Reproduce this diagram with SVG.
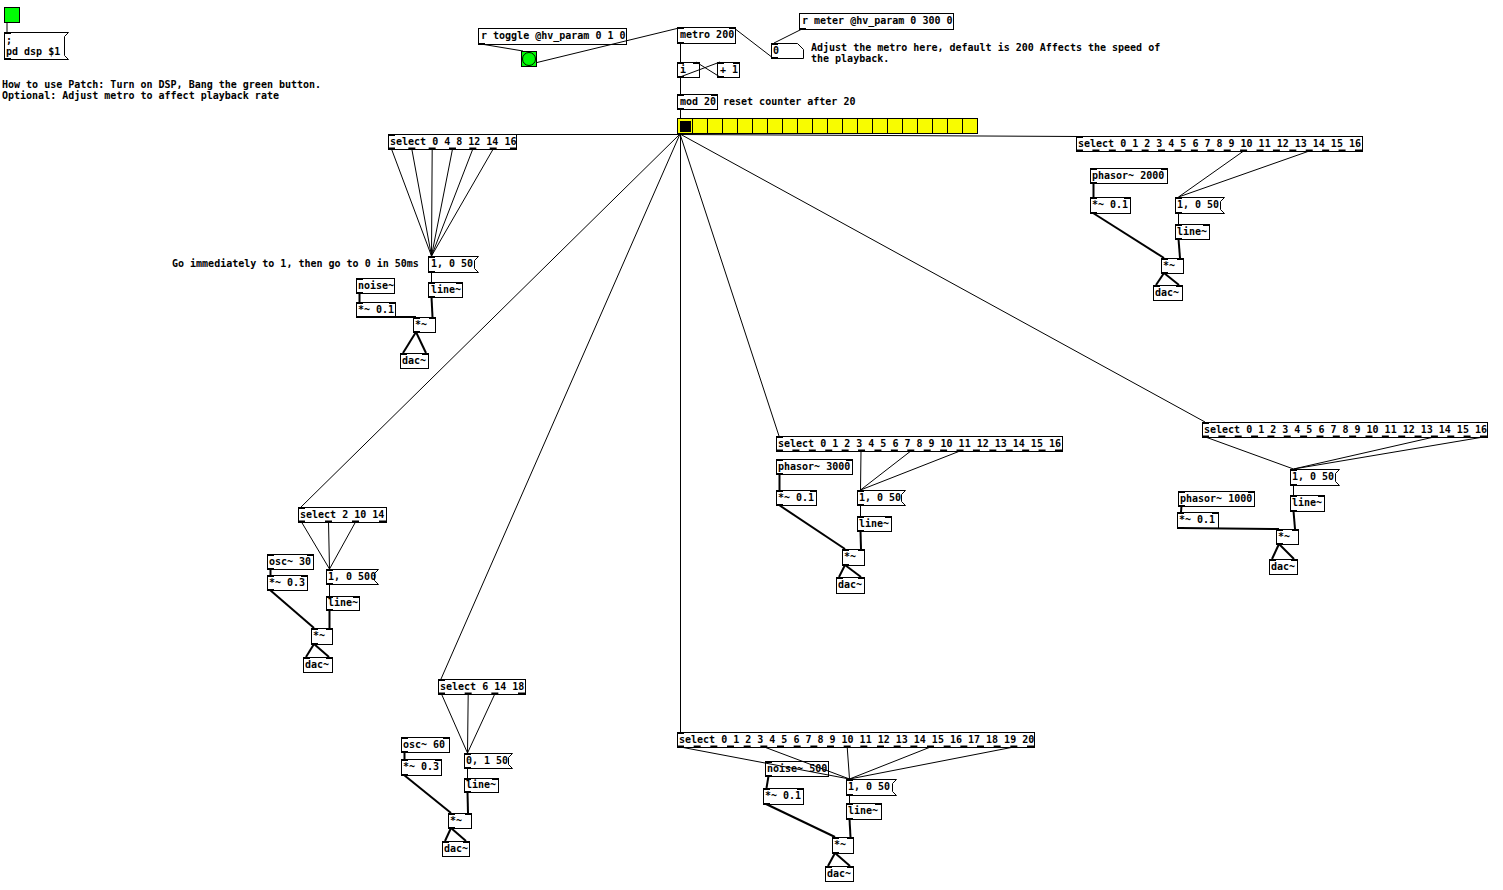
<svg xmlns="http://www.w3.org/2000/svg" width="1503" height="890" viewBox="0 0 1503 890">
<style>
.b{fill:#fff;stroke:#000;stroke-width:1}
.t{font-family:"DejaVu Sans Mono","Liberation Mono",monospace;font-size:10px;font-weight:bold;fill:#000}
rect.b ~ text.t, polygon.b ~ text.t{transform:translateY(-1px)}
.io{fill:#000}
.c{stroke:#000;stroke-width:1;fill:none}
.s{stroke:#000;stroke-width:2;fill:none}
.g{fill:#00fc04;stroke:#000;stroke-width:1}
.y{fill:#f8fc00;stroke:#000;stroke-width:1}
</style>
<rect width="1503" height="890" fill="#fff"/>
<g id="nodes">
<g id="tgl"><rect class="g" x="4.5" y="7.5" width="15" height="15"/></g>
<g id="msg_dsp"><polygon class="b" points="4.5,32.5 68.5,32.5 64.5,36.5 64.5,55.5 68.5,59.5 4.5,59.5"/><text class="t" x="6" y="45">;</text><text class="t" x="6" y="56">pd dsp $1</text><rect class="io" x="4" y="32" width="7" height="2"/><rect class="io" x="4" y="58" width="7" height="2"/></g>
<g id="cmt_howto"><text class="t" x="2" y="88">How to use Patch: Turn on DSP, Bang the green button.</text><text class="t" x="2" y="99">Optional: Adjust metro to affect playback rate</text></g>
<g id="r_toggle"><rect class="b" x="478.5" y="28.5" width="148" height="16"/><text class="t" x="481" y="40">r toggle @hv_param 0 1 0</text><rect class="io" x="478" y="43" width="7" height="2"/></g>
<g id="bng"><rect class="g" x="521.5" y="51.5" width="15" height="15"/><circle class="g" cx="529" cy="59" r="6.5"/></g>
<g id="metro"><rect class="b" x="677.5" y="27.5" width="58" height="16"/><text class="t" x="680" y="39">metro 200</text><rect class="io" x="677" y="27" width="7" height="2"/><rect class="io" x="729" y="27" width="7" height="2"/><rect class="io" x="677" y="42" width="7" height="2"/></g>
<g id="r_meter"><rect class="b" x="799.5" y="13.5" width="154" height="16"/><text class="t" x="802" y="25">r meter @hv_param 0 300 0</text><rect class="io" x="799" y="28" width="7" height="2"/></g>
<g id="nbx"><polygon class="b" points="771.5,43.5 797.5,43.5 803.5,49.5 803.5,58.5 771.5,58.5"/><text class="t" x="773" y="55">0</text><rect class="io" x="771" y="43" width="7" height="2"/><rect class="io" x="771" y="57" width="7" height="2"/></g>
<g id="cmt_adjust"><text class="t" x="811" y="51">Adjust the metro here, default is 200 Affects the speed of</text><text class="t" x="811" y="62">the playback.</text></g>
<g id="i"><rect class="b" x="677.5" y="62.5" width="22" height="15"/><text class="t" x="680" y="74">i</text><rect class="io" x="677" y="62" width="7" height="2"/><rect class="io" x="693" y="62" width="7" height="2"/><rect class="io" x="677" y="76" width="7" height="2"/></g>
<g id="plus1"><rect class="b" x="717.5" y="62.5" width="22" height="15"/><text class="t" x="720" y="74">+ 1</text><rect class="io" x="717" y="62" width="7" height="2"/><rect class="io" x="733" y="62" width="7" height="2"/><rect class="io" x="717" y="76" width="7" height="2"/></g>
<g id="mod"><rect class="b" x="677.5" y="94.5" width="40" height="15"/><text class="t" x="680" y="106">mod 20</text><rect class="io" x="677" y="94" width="7" height="2"/><rect class="io" x="711" y="94" width="7" height="2"/><rect class="io" x="677" y="108" width="7" height="2"/></g>
<g id="cmt_reset"><text class="t" x="723" y="105">reset counter after 20</text></g>
<g id="vradio">
<rect class="y" x="677.5" y="118.5" width="15" height="15"/><rect class="y" x="692.5" y="118.5" width="15" height="15"/><rect class="y" x="707.5" y="118.5" width="15" height="15"/><rect class="y" x="722.5" y="118.5" width="15" height="15"/><rect class="y" x="737.5" y="118.5" width="15" height="15"/>
<rect class="y" x="752.5" y="118.5" width="15" height="15"/><rect class="y" x="767.5" y="118.5" width="15" height="15"/><rect class="y" x="782.5" y="118.5" width="15" height="15"/><rect class="y" x="797.5" y="118.5" width="15" height="15"/><rect class="y" x="812.5" y="118.5" width="15" height="15"/>
<rect class="y" x="827.5" y="118.5" width="15" height="15"/><rect class="y" x="842.5" y="118.5" width="15" height="15"/><rect class="y" x="857.5" y="118.5" width="15" height="15"/><rect class="y" x="872.5" y="118.5" width="15" height="15"/><rect class="y" x="887.5" y="118.5" width="15" height="15"/>
<rect class="y" x="902.5" y="118.5" width="15" height="15"/><rect class="y" x="917.5" y="118.5" width="15" height="15"/><rect class="y" x="932.5" y="118.5" width="15" height="15"/><rect class="y" x="947.5" y="118.5" width="15" height="15"/><rect class="y" x="962.5" y="118.5" width="15" height="15"/>
<rect x="680" y="121" width="11" height="11" fill="#000"/>
</g>

<g id="selA"><rect class="b" x="388.5" y="134.5" width="128" height="15"/><text class="t" x="390" y="146">select 0 4 8 12 14 16</text><rect class="io" x="388" y="134" width="7" height="2"/><line x1="388" y1="148.5" x2="517" y2="148.5" stroke="#000" stroke-width="2" stroke-dasharray="7 13.33"/></g>
<g id="msgA"><polygon class="b" points="428.5,256.5 478.5,256.5 474.5,260.5 474.5,268.5 478.5,272.5 428.5,272.5"/><text class="t" x="431" y="268">1, 0 50</text><rect class="io" x="428" y="256" width="7" height="2"/><rect class="io" x="428" y="271" width="7" height="2"/></g>
<g id="cmt_go"><text class="t" x="172" y="267">Go immediately to 1, then go to 0 in 50ms</text></g>
<g id="noiseA"><rect class="b" x="356.5" y="278.5" width="38" height="15"/><text class="t" x="358" y="290">noise~</text><rect class="io" x="356" y="278" width="7" height="2"/><rect class="io" x="356" y="292" width="7" height="2"/></g>
<g id="mulA"><rect class="b" x="356.5" y="302.5" width="39" height="15"/><text class="t" x="358" y="314">*~ 0.1</text><rect class="io" x="356" y="302" width="7" height="2"/><rect class="io" x="389" y="302" width="7" height="2"/><rect class="io" x="356" y="316" width="7" height="2"/></g>
<g id="lineA"><rect class="b" x="428.5" y="282.5" width="34" height="15"/><text class="t" x="431" y="294">line~</text><rect class="io" x="428" y="282" width="7" height="2"/><rect class="io" x="456" y="282" width="7" height="2"/><rect class="io" x="428" y="296" width="7" height="2"/></g>
<g id="mul2A"><rect class="b" x="413.5" y="317.5" width="22" height="15"/><text class="t" x="415" y="329">*~</text><rect class="io" x="413" y="317" width="7" height="2"/><rect class="io" x="429" y="317" width="7" height="2"/><rect class="io" x="413" y="331" width="7" height="2"/></g>
<g id="dacA"><rect class="b" x="400.5" y="353.5" width="28" height="15"/><text class="t" x="402" y="365">dac~</text><rect class="io" x="400" y="353" width="7" height="2"/><rect class="io" x="422" y="353" width="7" height="2"/></g>

<g id="selB"><rect class="b" x="1076.5" y="136.5" width="286" height="15"/><text class="t" x="1078" y="148">select 0 1 2 3 4 5 6 7 8 9 10 11 12 13 14 15 16</text><rect class="io" x="1076" y="136" width="7" height="2"/><line x1="1076" y1="150.5" x2="1363" y2="150.5" stroke="#000" stroke-width="2" stroke-dasharray="7 9.41"/></g>
<g id="phasorB"><rect class="b" x="1090.5" y="168.5" width="77" height="15"/><text class="t" x="1092" y="180">phasor~ 2000</text><rect class="io" x="1090" y="168" width="7" height="2"/><rect class="io" x="1161" y="168" width="7" height="2"/><rect class="io" x="1090" y="182" width="7" height="2"/></g>
<g id="mulB"><rect class="b" x="1090.5" y="197.5" width="40" height="16"/><text class="t" x="1092" y="209">*~ 0.1</text><rect class="io" x="1090" y="197" width="7" height="2"/><rect class="io" x="1124" y="197" width="7" height="2"/><rect class="io" x="1090" y="212" width="7" height="2"/></g>
<g id="msgB"><polygon class="b" points="1175.5,197.5 1224.5,197.5 1220.5,201.5 1220.5,209.5 1224.5,213.5 1175.5,213.5"/><text class="t" x="1177" y="209">1, 0 50</text><rect class="io" x="1175" y="197" width="7" height="2"/><rect class="io" x="1175" y="212" width="7" height="2"/></g>
<g id="lineB"><rect class="b" x="1175.5" y="224.5" width="34" height="15"/><text class="t" x="1177" y="236">line~</text><rect class="io" x="1175" y="224" width="7" height="2"/><rect class="io" x="1203" y="224" width="7" height="2"/><rect class="io" x="1175" y="238" width="7" height="2"/></g>
<g id="mul2B"><rect class="b" x="1161.5" y="258.5" width="22" height="15"/><text class="t" x="1163" y="270">*~</text><rect class="io" x="1161" y="258" width="7" height="2"/><rect class="io" x="1177" y="258" width="7" height="2"/><rect class="io" x="1161" y="272" width="7" height="2"/></g>
<g id="dacB"><rect class="b" x="1153.5" y="285.5" width="29" height="15"/><text class="t" x="1155" y="297">dac~</text><rect class="io" x="1153" y="285" width="7" height="2"/><rect class="io" x="1176" y="285" width="7" height="2"/></g>

<g id="selC"><rect class="b" x="776.5" y="436.5" width="286" height="15"/><text class="t" x="778" y="448">select 0 1 2 3 4 5 6 7 8 9 10 11 12 13 14 15 16</text><rect class="io" x="776" y="436" width="7" height="2"/><line x1="776" y1="450.5" x2="1063" y2="450.5" stroke="#000" stroke-width="2" stroke-dasharray="7 9.41"/></g>
<g id="phasorC"><rect class="b" x="776.5" y="459.5" width="76" height="15"/><text class="t" x="778" y="471">phasor~ 3000</text><rect class="io" x="776" y="459" width="7" height="2"/><rect class="io" x="846" y="459" width="7" height="2"/><rect class="io" x="776" y="473" width="7" height="2"/></g>
<g id="mulC"><rect class="b" x="776.5" y="490.5" width="40" height="15"/><text class="t" x="778" y="502">*~ 0.1</text><rect class="io" x="776" y="490" width="7" height="2"/><rect class="io" x="810" y="490" width="7" height="2"/><rect class="io" x="776" y="504" width="7" height="2"/></g>
<g id="msgC"><polygon class="b" points="857.5,490.5 905.5,490.5 901.5,494.5 901.5,501.5 905.5,505.5 857.5,505.5"/><text class="t" x="859" y="502">1, 0 50</text><rect class="io" x="857" y="490" width="7" height="2"/><rect class="io" x="857" y="504" width="7" height="2"/></g>
<g id="lineC"><rect class="b" x="857.5" y="516.5" width="34" height="15"/><text class="t" x="859" y="528">line~</text><rect class="io" x="857" y="516" width="7" height="2"/><rect class="io" x="885" y="516" width="7" height="2"/><rect class="io" x="857" y="530" width="7" height="2"/></g>
<g id="mul2C"><rect class="b" x="842.5" y="549.5" width="22" height="16"/><text class="t" x="844" y="561">*~</text><rect class="io" x="842" y="549" width="7" height="2"/><rect class="io" x="858" y="549" width="7" height="2"/><rect class="io" x="842" y="564" width="7" height="2"/></g>
<g id="dacC"><rect class="b" x="836.5" y="577.5" width="28" height="16"/><text class="t" x="838" y="589">dac~</text><rect class="io" x="836" y="577" width="7" height="2"/><rect class="io" x="858" y="577" width="7" height="2"/></g>

<g id="selD"><rect class="b" x="1202.5" y="422.5" width="285" height="15"/><text class="t" x="1204" y="434">select 0 1 2 3 4 5 6 7 8 9 10 11 12 13 14 15 16</text><rect class="io" x="1202" y="422" width="7" height="2"/><line x1="1202" y1="436.5" x2="1488" y2="436.5" stroke="#000" stroke-width="2" stroke-dasharray="7 9.35"/></g>
<g id="msgD"><polygon class="b" points="1290.5,469.5 1339.5,469.5 1335.5,473.5 1335.5,481.5 1339.5,485.5 1290.5,485.5"/><text class="t" x="1292" y="481">1, 0 50</text><rect class="io" x="1290" y="469" width="7" height="2"/><rect class="io" x="1290" y="484" width="7" height="2"/></g>
<g id="phasorD"><rect class="b" x="1178.5" y="491.5" width="76" height="15"/><text class="t" x="1180" y="503">phasor~ 1000</text><rect class="io" x="1178" y="491" width="7" height="2"/><rect class="io" x="1248" y="491" width="7" height="2"/><rect class="io" x="1178" y="505" width="7" height="2"/></g>
<g id="mulD"><rect class="b" x="1177.5" y="512.5" width="41" height="16"/><text class="t" x="1179" y="524">*~ 0.1</text><rect class="io" x="1177" y="512" width="7" height="2"/><rect class="io" x="1212" y="512" width="7" height="2"/><rect class="io" x="1177" y="527" width="7" height="2"/></g>
<g id="lineD"><rect class="b" x="1290.5" y="495.5" width="34" height="16"/><text class="t" x="1292" y="507">line~</text><rect class="io" x="1290" y="495" width="7" height="2"/><rect class="io" x="1318" y="495" width="7" height="2"/><rect class="io" x="1290" y="510" width="7" height="2"/></g>
<g id="mul2D"><rect class="b" x="1276.5" y="529.5" width="22" height="15"/><text class="t" x="1278" y="541">*~</text><rect class="io" x="1276" y="529" width="7" height="2"/><rect class="io" x="1292" y="529" width="7" height="2"/><rect class="io" x="1276" y="543" width="7" height="2"/></g>
<g id="dacD"><rect class="b" x="1269.5" y="559.5" width="28" height="15"/><text class="t" x="1271" y="571">dac~</text><rect class="io" x="1269" y="559" width="7" height="2"/><rect class="io" x="1291" y="559" width="7" height="2"/></g>

<g id="selE"><rect class="b" x="298.5" y="507.5" width="88" height="15"/><text class="t" x="300" y="519">select 2 10 14</text><rect class="io" x="298" y="507" width="7" height="2"/><line x1="298" y1="521.5" x2="387" y2="521.5" stroke="#000" stroke-width="2" stroke-dasharray="7 20"/></g>
<g id="msgE"><polygon class="b" points="326.5,569.5 378.5,569.5 374.5,573.5 374.5,580.5 378.5,584.5 326.5,584.5"/><text class="t" x="328" y="581">1, 0 500</text><rect class="io" x="326" y="569" width="7" height="2"/><rect class="io" x="326" y="583" width="7" height="2"/></g>
<g id="oscE"><rect class="b" x="267.5" y="554.5" width="46" height="15"/><text class="t" x="269" y="566">osc~ 30</text><rect class="io" x="267" y="554" width="7" height="2"/><rect class="io" x="307" y="554" width="7" height="2"/><rect class="io" x="267" y="568" width="7" height="2"/></g>
<g id="mulE"><rect class="b" x="267.5" y="575.5" width="40" height="15"/><text class="t" x="269" y="587">*~ 0.3</text><rect class="io" x="267" y="575" width="7" height="2"/><rect class="io" x="301" y="575" width="7" height="2"/><rect class="io" x="267" y="589" width="7" height="2"/></g>
<g id="lineE"><rect class="b" x="326.5" y="596.5" width="33" height="14"/><text class="t" x="328" y="607">line~</text><rect class="io" x="326" y="596" width="7" height="2"/><rect class="io" x="353" y="596" width="7" height="2"/><rect class="io" x="326" y="609" width="7" height="2"/></g>
<g id="mul2E"><rect class="b" x="311.5" y="628.5" width="21" height="16"/><text class="t" x="313" y="640">*~</text><rect class="io" x="311" y="628" width="7" height="2"/><rect class="io" x="326" y="628" width="7" height="2"/><rect class="io" x="311" y="643" width="7" height="2"/></g>
<g id="dacE"><rect class="b" x="303.5" y="657.5" width="29" height="15"/><text class="t" x="305" y="669">dac~</text><rect class="io" x="303" y="657" width="7" height="2"/><rect class="io" x="326" y="657" width="7" height="2"/></g>

<g id="selF"><rect class="b" x="438.5" y="679.5" width="87" height="15"/><text class="t" x="440" y="691">select 6 14 18</text><rect class="io" x="438" y="679" width="7" height="2"/><line x1="438" y1="693.5" x2="526" y2="693.5" stroke="#000" stroke-width="2" stroke-dasharray="7 19.67"/></g>
<g id="msgF"><polygon class="b" points="464.5,753.5 512.5,753.5 508.5,757.5 508.5,764.5 512.5,768.5 464.5,768.5"/><text class="t" x="466" y="765">0, 1 50</text><rect class="io" x="464" y="753" width="7" height="2"/><rect class="io" x="464" y="767" width="7" height="2"/></g>
<g id="oscF"><rect class="b" x="401.5" y="737.5" width="48" height="15"/><text class="t" x="403" y="749">osc~ 60</text><rect class="io" x="401" y="737" width="7" height="2"/><rect class="io" x="443" y="737" width="7" height="2"/><rect class="io" x="401" y="751" width="7" height="2"/></g>
<g id="mulF"><rect class="b" x="401.5" y="759.5" width="40" height="16"/><text class="t" x="403" y="771">*~ 0.3</text><rect class="io" x="401" y="759" width="7" height="2"/><rect class="io" x="435" y="759" width="7" height="2"/><rect class="io" x="401" y="774" width="7" height="2"/></g>
<g id="lineF"><rect class="b" x="464.5" y="778.5" width="34" height="14"/><text class="t" x="466" y="789">line~</text><rect class="io" x="464" y="778" width="7" height="2"/><rect class="io" x="492" y="778" width="7" height="2"/><rect class="io" x="464" y="791" width="7" height="2"/></g>
<g id="mul2F"><rect class="b" x="448.5" y="813.5" width="23" height="15"/><text class="t" x="450" y="825">*~</text><rect class="io" x="448" y="813" width="7" height="2"/><rect class="io" x="465" y="813" width="7" height="2"/><rect class="io" x="448" y="827" width="7" height="2"/></g>
<g id="dacF"><rect class="b" x="442.5" y="841.5" width="27" height="15"/><text class="t" x="444" y="853">dac~</text><rect class="io" x="442" y="841" width="7" height="2"/><rect class="io" x="463" y="841" width="7" height="2"/></g>

<g id="selG"><rect class="b" x="677.5" y="732.5" width="357" height="15"/><text class="t" x="679" y="744">select 0 1 2 3 4 5 6 7 8 9 10 11 12 13 14 15 16 17 18 19 20</text><rect class="io" x="677" y="732" width="7" height="2"/><line x1="677" y1="746.5" x2="1035" y2="746.5" stroke="#000" stroke-width="2" stroke-dasharray="7 9.667"/></g>
<g id="noiseG"><rect class="b" x="765.5" y="761.5" width="63" height="15"/><text class="t" x="767" y="773">noise~ 500</text><rect class="io" x="765" y="761" width="7" height="2"/><rect class="io" x="765" y="775" width="7" height="2"/></g>
<g id="mulG"><rect class="b" x="763.5" y="788.5" width="40" height="16"/><text class="t" x="765" y="800">*~ 0.1</text><rect class="io" x="763" y="788" width="7" height="2"/><rect class="io" x="797" y="788" width="7" height="2"/><rect class="io" x="763" y="803" width="7" height="2"/></g>
<g id="msgG"><polygon class="b" points="846.5,779.5 896.5,779.5 892.5,783.5 892.5,791.5 896.5,795.5 846.5,795.5"/><text class="t" x="848" y="791">1, 0 50</text><rect class="io" x="846" y="779" width="7" height="2"/><rect class="io" x="846" y="794" width="7" height="2"/></g>
<g id="lineG"><rect class="b" x="846.5" y="803.5" width="35" height="16"/><text class="t" x="848" y="815">line~</text><rect class="io" x="846" y="803" width="7" height="2"/><rect class="io" x="875" y="803" width="7" height="2"/><rect class="io" x="846" y="818" width="7" height="2"/></g>
<g id="mul2G"><rect class="b" x="832.5" y="837.5" width="21" height="16"/><text class="t" x="834" y="849">*~</text><rect class="io" x="832" y="837" width="7" height="2"/><rect class="io" x="847" y="837" width="7" height="2"/><rect class="io" x="832" y="852" width="7" height="2"/></g>
<g id="dacG"><rect class="b" x="825.5" y="866.5" width="28" height="15"/><text class="t" x="827" y="878">dac~</text><rect class="io" x="825" y="866" width="7" height="2"/><rect class="io" x="847" y="866" width="7" height="2"/></g>
</g>

<g id="connectors">
<line class="c" x1="7" y1="22" x2="7" y2="32"/>
<line class="c" x1="481" y1="44" x2="523" y2="51"/>
<line class="c" x1="537" y1="62.5" x2="679" y2="28"/>
<line class="c" x1="734" y1="28" x2="773" y2="58"/>
<line class="c" x1="802" y1="29" x2="774" y2="43"/>
<line class="c" x1="680.5" y1="43" x2="680.5" y2="62"/>
<line class="c" x1="680" y1="77" x2="720" y2="62"/>
<line class="c" x1="720" y1="77" x2="696" y2="62"/>
<line class="c" x1="680.5" y1="77" x2="680.5" y2="94"/>
<line class="c" x1="680.5" y1="109" x2="680.5" y2="118"/>
<line class="c" x1="680" y1="134.5" x2="391" y2="134.5"/>
<line class="c" x1="680" y1="134.5" x2="1079" y2="136.5"/>
<line class="c" x1="680" y1="134" x2="779" y2="436"/>
<line class="c" x1="680" y1="134" x2="1205" y2="422"/>
<line class="c" x1="680" y1="134" x2="301" y2="507"/>
<line class="c" x1="680" y1="134" x2="441" y2="679"/>
<line class="c" x1="680.5" y1="134" x2="680.5" y2="732"/>

<line class="c" x1="391.5" y1="149" x2="431.5" y2="256"/>
<line class="c" x1="411.8" y1="149" x2="431.5" y2="256"/>
<line class="c" x1="432.2" y1="149" x2="431.5" y2="256"/>
<line class="c" x1="452.5" y1="149" x2="431.5" y2="256"/>
<line class="c" x1="472.8" y1="149" x2="431.5" y2="256"/>
<line class="c" x1="493.2" y1="149" x2="431.5" y2="256"/>
<line class="c" x1="431.5" y1="272" x2="431.5" y2="282"/>
<line class="s" x1="431.5" y1="297" x2="432.5" y2="317"/>
<line class="s" x1="359.5" y1="293" x2="359.5" y2="302"/>
<line class="s" x1="359" y1="317" x2="416" y2="317"/>
<line class="s" x1="416" y1="332" x2="403" y2="353"/>
<line class="s" x1="416" y1="332" x2="426" y2="353"/>

<line class="c" x1="1243.6" y1="151" x2="1178.5" y2="197"/>
<line class="c" x1="1309.3" y1="151" x2="1178.5" y2="197"/>
<line class="s" x1="1093.5" y1="183" x2="1093.5" y2="197"/>
<line class="s" x1="1093" y1="213" x2="1164" y2="258"/>
<line class="c" x1="1178.5" y1="213" x2="1178.5" y2="224"/>
<line class="s" x1="1178.5" y1="239" x2="1180" y2="258"/>
<line class="s" x1="1164" y1="273" x2="1156" y2="285"/>
<line class="s" x1="1164" y1="273" x2="1179" y2="285"/>

<line class="c" x1="861" y1="451" x2="860.5" y2="490"/>
<line class="c" x1="910.8" y1="451" x2="860.5" y2="490"/>
<line class="c" x1="960" y1="451" x2="860.5" y2="490"/>
<line class="s" x1="779.5" y1="474" x2="779.5" y2="490"/>
<line class="s" x1="779" y1="505" x2="845" y2="549"/>
<line class="c" x1="860.5" y1="505" x2="860.5" y2="516"/>
<line class="s" x1="860.5" y1="531" x2="861" y2="549"/>
<line class="s" x1="845" y1="565" x2="839" y2="577"/>
<line class="s" x1="845" y1="565" x2="861" y2="577"/>

<line class="c" x1="1205.5" y1="437" x2="1293.5" y2="469"/>
<line class="c" x1="1434" y1="437" x2="1293.5" y2="469"/>
<line class="c" x1="1483.5" y1="437" x2="1293.5" y2="469"/>
<line class="s" x1="1181.5" y1="506" x2="1181" y2="512"/>
<line class="s" x1="1180" y1="528" x2="1279" y2="529"/>
<line class="c" x1="1293.5" y1="485" x2="1293.5" y2="495"/>
<line class="s" x1="1293.5" y1="511" x2="1295" y2="529"/>
<line class="s" x1="1279" y1="544" x2="1272" y2="559"/>
<line class="s" x1="1279" y1="544" x2="1294" y2="559"/>

<line class="c" x1="301.5" y1="522" x2="329.5" y2="569"/>
<line class="c" x1="328.5" y1="522" x2="329.5" y2="569"/>
<line class="c" x1="355.5" y1="522" x2="329.5" y2="569"/>
<line class="s" x1="270.5" y1="569" x2="270.5" y2="575"/>
<line class="s" x1="270" y1="590" x2="314" y2="628"/>
<line class="c" x1="329.5" y1="584" x2="329.5" y2="596"/>
<line class="s" x1="329.5" y1="610" x2="329.5" y2="628"/>
<line class="s" x1="314" y1="644" x2="306" y2="657"/>
<line class="s" x1="314" y1="644" x2="329" y2="657"/>

<line class="c" x1="441.5" y1="694" x2="467.5" y2="753"/>
<line class="c" x1="468.2" y1="694" x2="467.5" y2="753"/>
<line class="c" x1="494.8" y1="694" x2="467.5" y2="753"/>
<line class="s" x1="404.5" y1="752" x2="404.5" y2="759"/>
<line class="s" x1="404" y1="775" x2="451" y2="813"/>
<line class="c" x1="467.5" y1="768" x2="467.5" y2="778"/>
<line class="s" x1="467.5" y1="792" x2="468" y2="813"/>
<line class="s" x1="451" y1="828" x2="445" y2="841"/>
<line class="s" x1="451" y1="828" x2="466" y2="841"/>

<line class="c" x1="680.5" y1="747" x2="849.5" y2="779"/>
<line class="c" x1="764.3" y1="747" x2="849.5" y2="779"/>
<line class="c" x1="847.2" y1="747" x2="849.5" y2="779"/>
<line class="c" x1="930.5" y1="747" x2="849.5" y2="779"/>
<line class="c" x1="1013.8" y1="747" x2="849.5" y2="779"/>
<line class="s" x1="768.5" y1="776" x2="766.5" y2="788"/>
<line class="s" x1="766" y1="804" x2="835" y2="837"/>
<line class="c" x1="849.5" y1="795" x2="849.5" y2="803"/>
<line class="s" x1="849.5" y1="819" x2="850.5" y2="837"/>
<line class="s" x1="835" y1="853" x2="828" y2="866"/>
<line class="s" x1="835" y1="853" x2="850" y2="866"/>
</g>
</svg>
